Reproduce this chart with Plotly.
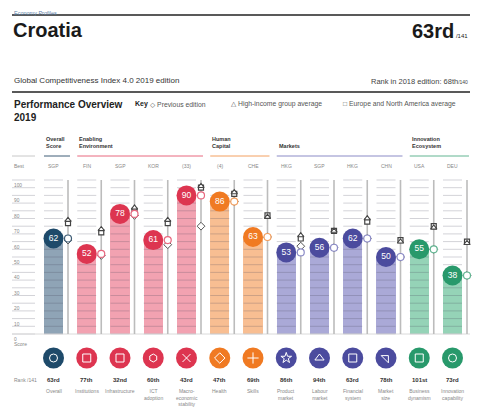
import plotly.graph_objects as go

# ---- data ----
pillars = ["Overall", "Institutions", "Infrastructure", "ICT<br>adoption",
           "Macro-<br>economic<br>stability", "Health", "Skills",
           "Product<br>market", "Labour<br>market", "Financial<br>system",
           "Market<br>size", "Business<br>dynamism", "Innovation<br>capability"]
scores = [62, 52, 78, 61, 90, 86, 63, 53, 56, 62, 50, 55, 38]
ranks = ["63rd", "77th", "32nd", "60th", "43rd", "47th", "69th", "86th",
         "94th", "63rd", "78th", "101st", "73rd"]
best = ["SGP", "FIN", "SGP", "KOR", "(33)", "(4)", "CHE", "HKG", "SGP",
        "HKG", "CHN", "USA", "DEU"]
prev_edition = [61, 51, 77, 58, 70, 86, 63, 57, 56, 62, 50, 55, 38]
high_income = [74, 68, 82, 74, 96, 92, 76, 64, 67, 75, 60, 69, 59]
europe_na = [72, 66, 80, 72, 95, 91, 77, 62, 67, 73, 61, 70, 60]
pillar_group = [0, 1, 1, 1, 1, 2, 2, 3, 3, 3, 3, 4, 4]
group_names = ["Overall<br>Score", "Enabling<br>Environment", "Human<br>Capital",
               "Markets", "Innovation<br>Ecosystem"]
axis_ticks = [100, 90, 80, 70, 60, 50, 40, 30, 20, 10, 0]

# ---- styling ----
dark = ["#1e4a6a", "#dd3550", "#f07a22", "#4b4b9e", "#28996b"]
light = ["#8fa4b6", "#f2a2b1", "#f8be92", "#aaa9d7", "#95d3b7"]
line_col = ["#3f5d76", "#e8687f", "#f3a060", "#8b8bc6", "#63b592"]
FONT = "Liberation Sans, Arial, DejaVu Sans, sans-serif"

# the page body adds an 8px margin, so the figure is drawn 8px in from the window
OFF = 8
W, H = 480 - OFF, 413 - OFF
PXU = 1.54          # pixels per score point
ZERO = 334          # window y of score 0

# window-pixel helpers for layout positions (x in column units, y in paper units)
def cx(px):
    return (px - OFF - (53.5 - OFF)) / 33.25

def py(px):
    return 1 - (px - OFF) / H

def px_x(px):
    return (px - OFF) / W

n = len(scores)
idx = list(range(n))
half = 0.286
voff = 0.436

fig = go.Figure()

# bars
fig.add_trace(go.Bar(
    x=idx, y=scores, width=2 * half,
    marker=dict(color=[light[g] for g in pillar_group], line=dict(width=0)),
))

# grid segments every 5 points in each column and the axis column
gx, gy = [], []
for v in range(0, 101, 5):
    gx += [cx(12), cx(35), None]
    gy += [v, v, None]
    for i in idx:
        gx += [i - half, i + half, None]
        gy += [v, v, None]
fig.add_trace(go.Scatter(x=gx, y=gy, mode="lines",
                         line=dict(color="rgba(70,70,90,0.24)", width=1),
                         hoverinfo="skip"))

# baseline
fig.add_trace(go.Scatter(x=[cx(12), cx(470)], y=[0, 0], mode="lines",
                         line=dict(color="#dadada", width=1), hoverinfo="skip"))

# vertical comparison lines
vx, vy = [], []
for i in idx:
    vx += [i + voff, i + voff, None]
    vy += [0, 100, None]
fig.add_trace(go.Scatter(x=vx, y=vy, mode="lines",
                         line=dict(color="#bcbcbc", width=1.6), hoverinfo="skip"))

mx = [i + voff for i in idx]
fig.add_trace(go.Scatter(x=mx, y=prev_edition, mode="markers",
                         marker=dict(symbol="diamond", size=6, color="white",
                                     line=dict(color="#555", width=1))))
fig.add_trace(go.Scatter(x=mx, y=europe_na, mode="markers",
                         marker=dict(symbol="square", size=5, color="white",
                                     line=dict(color="#444", width=1.2))))
fig.add_trace(go.Scatter(x=mx, y=high_income, mode="markers",
                         marker=dict(symbol="triangle-up", size=5.5, color="white",
                                     line=dict(color="#444", width=1.1))))
fig.add_trace(go.Scatter(x=mx, y=scores, mode="markers",
                         marker=dict(symbol="circle", size=7, color="white",
                                     line=dict(color=[line_col[g] for g in pillar_group],
                                               width=1.2))))

# score bubbles
fig.add_trace(go.Scatter(
    x=idx, y=scores, mode="markers+text", text=[str(s) for s in scores],
    textposition="middle center",
    textfont=dict(family=FONT, size=8.5, color="white"),
    marker=dict(size=20, color=[dark[g] for g in pillar_group], line=dict(width=0)),
))

# icon circles
icon_y = -(358 - ZERO) / PXU
icon_syms = ["circle-open", "square-open", "square-open", "hexagon-open",
             "x-thin-open", "diamond-open", "cross-thin-open", "star-open",
             "triangle-up-open", "square-open", "triangle-ne-open",
             "square-open", "circle-open"]
fig.add_trace(go.Scatter(x=idx, y=[icon_y] * n, mode="markers",
                         marker=dict(size=21, color=[dark[g] for g in pillar_group],
                                     line=dict(width=0))))
fig.add_trace(go.Scatter(x=idx, y=[icon_y] * n, mode="markers",
                         marker=dict(size=8, symbol=icon_syms, color="white",
                                     line=dict(color="white", width=1))))

ann = []
shapes = []

def text(x, y, s, size, color="#333", bold=False, xanchor="left", yanchor="middle",
         xref="paper", align="left"):
    if bold:
        s = "<b>" + s + "</b>"
    ann.append(dict(x=x, y=y, xref=xref, yref="paper", text=s, showarrow=False,
                    xanchor=xanchor, yanchor=yanchor, align=align,
                    font=dict(family=FONT, size=size, color=color)))

# header
text(px_x(12), 1, "Economy Profiles", 5.5, color="#5d82a8", yanchor="top")
shapes.append(dict(type="line", xref="paper", yref="paper", x0=px_x(12), x1=px_x(470),
                   y0=py(15), y1=py(15), line=dict(color="#222", width=1.6)))
text(px_x(11), py(30), "Croatia", 20, color="#1a1a1a", bold=True)
text(px_x(470), py(31), "<b>63rd</b><span style='font-size:6px'> /141</span>", 20,
     color="#1a1a1a", xanchor="right")
text(px_x(12), py(80), "Global Competitiveness Index 4.0 2019 edition", 8, color="#333")
text(px_x(470), py(81), "Rank in 2018 edition: 68th<span style='font-size:5px'>/140</span>",
     7.5, color="#444", xanchor="right")
shapes.append(dict(type="line", xref="paper", yref="paper", x0=px_x(12), x1=px_x(470),
                   y0=py(92), y1=py(92), line=dict(color="#222", width=1.6)))
text(px_x(12), py(104), "Performance Overview", 10, color="#222", bold=True)
text(px_x(12), py(117), "2019", 10, color="#222", bold=True)
text(px_x(133), py(104), "Key", 7, color="#222", bold=True)
text(px_x(148), py(104), "◇ Previous edition", 6.8, color="#555")
text(px_x(229), py(104), "△ High-income group average", 6.8, color="#555")
text(px_x(341), py(104), "□ Europe and North America average", 6.8, color="#555")

# group headers and underlines
shapes.append(dict(type="line", xref="x", yref="paper", x0=cx(12), x1=cx(35),
                   y0=py(156), y1=py(156), line=dict(color="#c8c8c8", width=1)))
for g, name in enumerate(group_names):
    cols = [i for i in idx if pillar_group[i] == g]
    x0, x1 = cols[0] - half, cols[-1] + voff + 0.06
    shapes.append(dict(type="line", xref="x", yref="paper", x0=x0, x1=x1,
                       y0=py(156), y1=py(156), line=dict(color=line_col[g], width=1)))
    text(x0, py(151), name, 5.5, color="#333", bold=True, xref="x", yanchor="bottom")

# y axis labels
text(px_x(12), py(166), "Best", 5, color="#888")
for t in axis_ticks:
    text(cx(12), py(ZERO - t * PXU + 1), str(t), 4.8, color="#888", xref="x",
         yanchor="top")
text(px_x(12), py(344), "Score", 5, color="#888")
text(px_x(12), py(380), "Rank /141", 5, color="#888")

for i in idx:
    text(i, py(166), best[i], 5, color="#888", xref="x", xanchor="center")
    text(i, py(380), ranks[i], 6, color="#333", bold=True, xref="x", xanchor="center")
    text(i, py(386), pillars[i], 5, color="#888", xref="x", xanchor="center",
         yanchor="top", align="center")

fig.update_layout(
    width=W, height=H, margin=dict(l=0, r=0, t=0, b=0),
    paper_bgcolor="white", plot_bgcolor="white", showlegend=False,
    xaxis=dict(range=[cx(OFF), cx(480)], visible=False, fixedrange=True),
    yaxis=dict(range=[-(413 - ZERO) / PXU, (ZERO - OFF) / PXU], visible=False,
               fixedrange=True),
    annotations=ann, shapes=shapes, bargap=0,
)

fig.write_html("out.html")
